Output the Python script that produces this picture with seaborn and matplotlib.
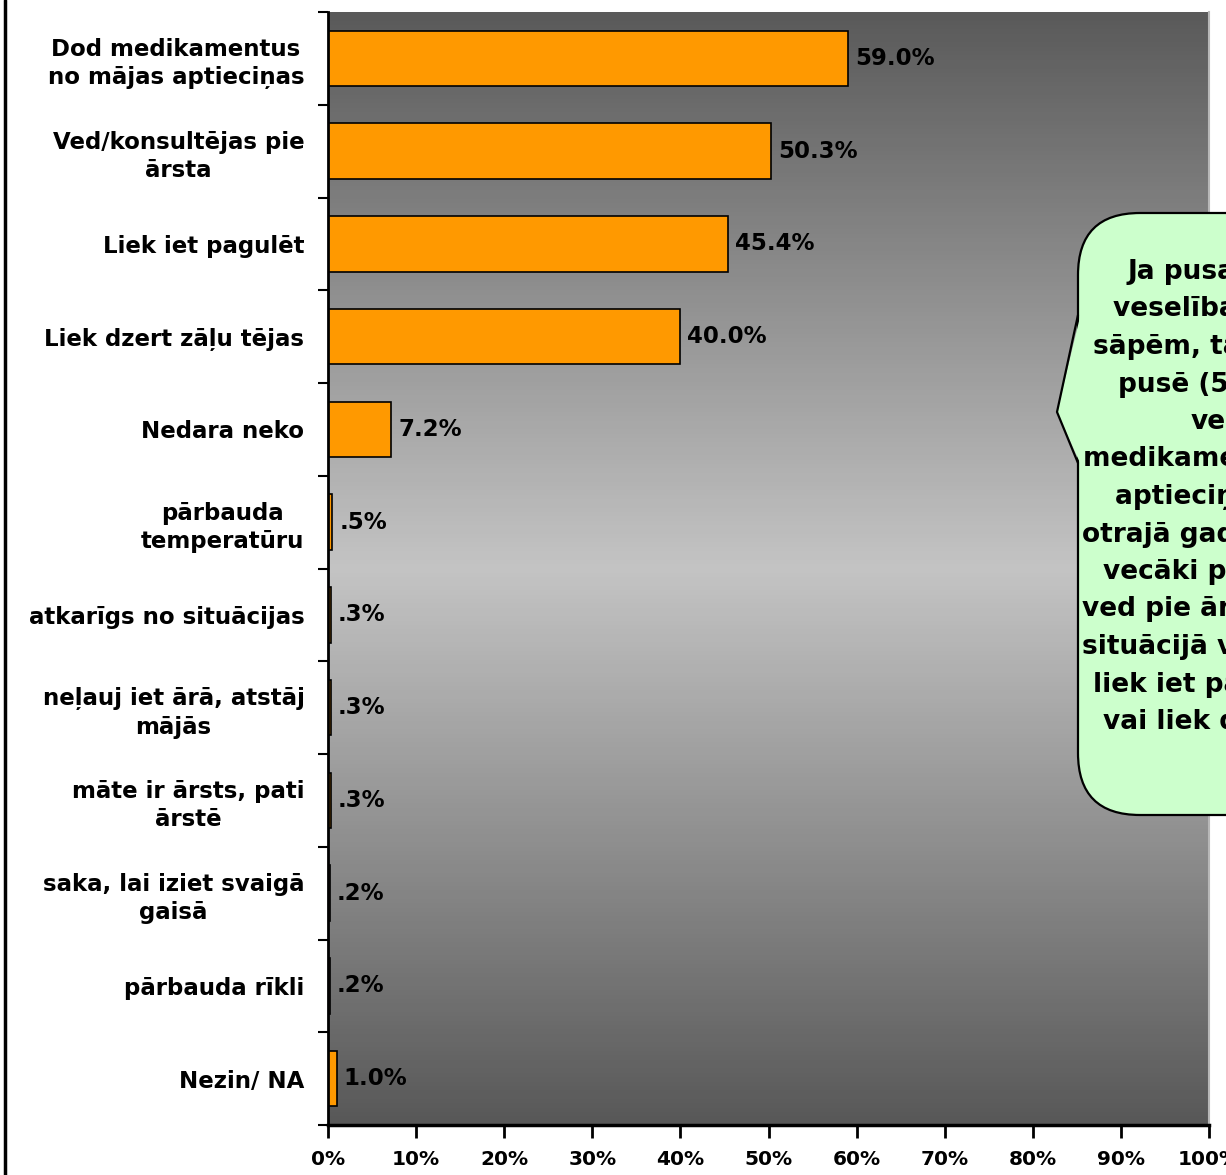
import matplotlib
matplotlib.use('Agg')
import matplotlib.pyplot as plt
import seaborn as sns
import numpy as np
import pandas as pd
from matplotlib.colors import LinearSegmentedColormap
from matplotlib.patches import FancyBboxPatch, Polygon

# dati
categories = [
    'Dod medikamentus\nno mājas aptieciņas',
    'Ved/konsultējas pie\nārsta',
    'Liek iet pagulēt',
    'Liek dzert zāļu tējas',
    'Nedara neko',
    'pārbauda\ntemperatūru',
    'atkarīgs no situācijas',
    'neļauj iet ārā, atstāj\nmājās',
    'māte ir ārsts, pati\nārstē',
    'saka, lai iziet svaigā\ngaisā',
    'pārbauda rīkli',
    'Nezin/ NA',
]
values = [59.0, 50.3, 45.4, 40.0, 7.2, 0.5, 0.3, 0.3, 0.3, 0.2, 0.2, 1.0]
value_labels = ['59.0%', '50.3%', '45.4%', '40.0%', '7.2%', '.5%', '.3%', '.3%', '.3%', '.2%', '.2%', '1.0%']
x_ticks = [0, 10, 20, 30, 40, 50, 60, 70, 80, 90, 100]
x_tick_labels = ['0%', '10%', '20%', '30%', '40%', '50%', '60%', '70%', '80%', '90%', '100%']
note_lines = [
    'Ja pusaudzim ir',
    'veselības kaites,',
    'sāpēm, tad aptuveni',
    'pusē (59%) dod',
    'vecāki',
    'medikamentus no mājas',
    'aptieciņas, bet',
    'otrajā gadījumā (50%)',
    'vecāki pusaudzi',
    'ved pie ārsta. Citā',
    'situācijā vecāki',
    'liek iet pagulēt (45%)',
    'vai liek dzert tējas',
]

sns.set_style('white')
plt.rcParams['font.family'] = ['DejaVu Sans']
plt.rcParams['text.color'] = 'black'
plt.rcParams['xtick.color'] = 'black'
plt.rcParams['ytick.color'] = 'black'

W, H = 1226, 1175
fig = plt.figure(figsize=(W / 100, H / 100), dpi=100)
ax = fig.add_axes([328 / W, 50 / H, (1209 - 328) / W, (1125 - 12) / H])

# fons ar gradientu
bg = LinearSegmentedColormap.from_list('bg', ['#5a5a5a', '#c4c4c4', '#585858'])
grad = np.linspace(0, 1, 256).reshape(-1, 1)
ax.imshow(grad, extent=(0, 1, 0, 1), transform=ax.transAxes, aspect='auto', cmap=bg, zorder=0)

df = pd.DataFrame({'category': categories, 'value': values})
sns.barplot(data=df, x='value', y='category', orient='h', color='#FF9900', saturation=1,
            edgecolor='black', linewidth=1.2, width=0.6, errorbar=None, ax=ax, zorder=2)

ax.set_xlim(0, 100)
ax.set_ylim(11.5, -0.5)
ax.set_xlabel('')
ax.set_ylabel('')

ax.bar_label(ax.containers[0], labels=value_labels, padding=5, fontsize=16.5,
             fontweight='bold', color='black')

# y ass
ax.set_yticks(range(len(categories)))
ax.set_yticklabels(categories, ha='right', multialignment='center', linespacing=1.3,
                   fontsize=16.5, fontweight='bold', color='black')
ax.set_yticks(np.arange(-0.5, len(categories), 1), minor=True)
ax.tick_params(axis='y', which='major', length=0, pad=17, left=True)
ax.tick_params(axis='y', which='minor', length=7, width=1.5, color='black', direction='out', left=True)

# x ass
ax.set_xticks(x_ticks)
ax.set_xticklabels(x_tick_labels, fontsize=14.5, fontweight='bold', color='black')
ax.tick_params(axis='x', which='major', length=9, width=2, color='black', direction='out', pad=9, bottom=True)

for s in ['left', 'bottom']:
    ax.spines[s].set_color('black')
ax.spines['left'].set_linewidth(2)
ax.spines['bottom'].set_linewidth(2.5)
ax.spines['top'].set_visible(False)
ax.spines['right'].set_color('#b8b8b8')
ax.spines['right'].set_linewidth(1.5)

# komentārs
ov = fig.add_axes([0, 0, 1, 1])
ov.set_xlim(0, W)
ov.set_ylim(H, 0)
ov.axis('off')
ov.set_zorder(5)

green = '#CCFFCC'
box = FancyBboxPatch((1078, 213), 320, 602, boxstyle='round,pad=0,rounding_size=62',
                     facecolor=green, edgecolor='black', linewidth=1.6, zorder=2)
ov.add_patch(box)
ov.add_patch(Polygon([(1081, 313), (1057, 412), (1081, 465)], closed=True,
                     facecolor=green, edgecolor='none', zorder=3))
ov.plot([1078, 1057, 1078], [315, 412, 463], color='black', lw=1.6, zorder=4)

starts = [1127, 1113, 1093, 1118, 1191, 1083, 1115, 1082, 1103, 1082, 1082, 1093, 1103]
for i, (line, x0) in enumerate(zip(note_lines, starts)):
    ov.text(x0, 272 + i * 37.5, line, ha='left', va='center', fontsize=19,
            fontweight='bold', color='black', zorder=5)

# rāmis kreisajā malā
ov.plot([5, 5], [0, H], color='black', lw=2.5, zorder=5)

fig.savefig('out.png', dpi=100)
